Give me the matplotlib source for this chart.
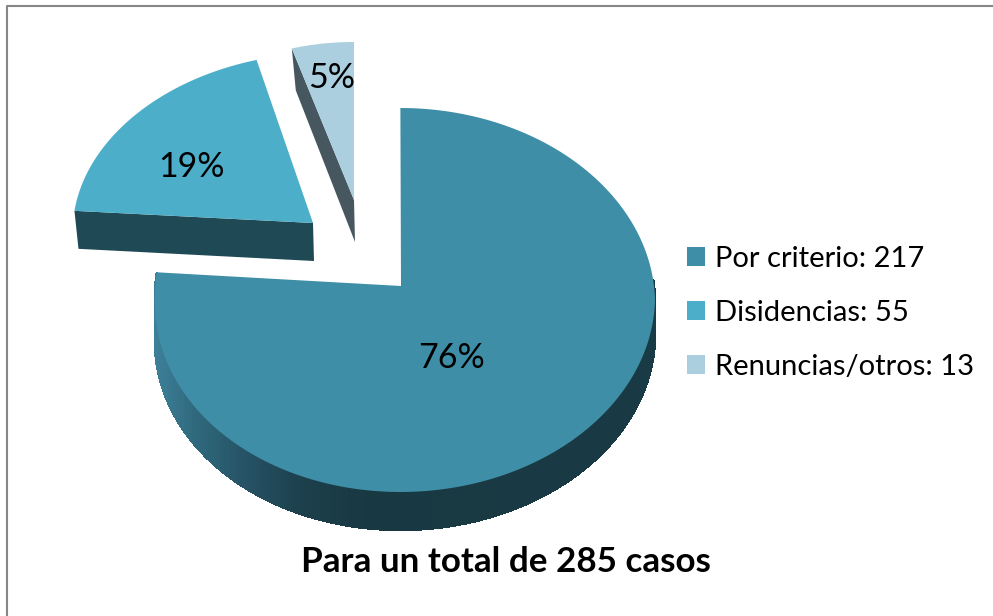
import numpy as np
import matplotlib
matplotlib.use('Agg')
import matplotlib.pyplot as plt
from matplotlib.patches import Patch

names = ['Por criterio', 'Disidencias', 'Renuncias/otros']
values = [217, 55, 13]
title = 'Para un total de 285 casos'

colors = ['#3F8EA7', '#4CAEC9', '#ABCFDF']
side_colors = ['#1F4A55', '#1F4A55', '#465760']

# x position along the rim -> colour of the main slice's side wall
wall_x = [155, 190, 240, 300, 370, 655]
wall_rgb = [(0.24, 0.50, 0.60), (0.19, 0.42, 0.50), (0.15, 0.33, 0.40),
            (0.11, 0.25, 0.30), (0.095, 0.22, 0.26), (0.10, 0.23, 0.27)]

# apex, rim centre, rim radii, tilt, shear, depth for each slice (in pixels)
apex = [(401, 286), (313, 223), (354, 200)]
centre = [(405, 300), (313, 223), (354, 200)]
radii = [(250, 192), (240, 170), (220, 158)]
tilt = [4.2, 0, 0]
shear = [-0.024, 0.07, 0]
depth = [38, 38, 42]
pct_pos = [(451, 358), (191, 167), (332, 78)]

plt.rcParams['font.family'] = ['Lato', 'DejaVu Sans']

fig = plt.figure(figsize=(9.93, 6.16), dpi=100)
ax = fig.add_axes([0, 0, 1, 1])
ax.set_xlim(0, 993)
ax.set_ylim(616, 0)
ax.axis('off')


def rim(i, theta):
    t = np.radians(theta - tilt[i] * np.sin(np.radians(theta)))
    up = radii[i][1] * np.cos(t)
    x = centre[i][0] + radii[i][0] * np.sin(t) + shear[i] * np.abs(up)
    y = centre[i][1] - up
    return x, y


total = sum(values)
angles = np.cumsum([0] + [360 * v / total for v in values])

# side wall of the big slice, as thin strips so the shading can change
steps = np.linspace(88, angles[1], 240)
xs, ys = rim(0, steps)
for k in range(len(steps) - 1):
    mid = (xs[k] + xs[k + 1]) / 2
    col = [np.interp(mid, wall_x, [c[n] for c in wall_rgb]) for n in range(3)]
    ax.fill([xs[k], xs[k + 1], xs[k + 1], xs[k]],
            [ys[k], ys[k + 1], ys[k + 1] + depth[0], ys[k] + depth[0]],
            color=col, lw=1.0, antialiased=False, zorder=1)

# cut faces of the two pulled-out slices
for i in [1, 2]:
    x0, y0 = rim(i, angles[i])
    ax.fill([x0, apex[i][0], apex[i][0] + 1, x0 + 4],
            [y0, apex[i][1], apex[i][1] + depth[i], y0 + depth[i]],
            color=side_colors[i], lw=0, zorder=2)

# top faces
for i in range(3):
    th = np.linspace(angles[i], angles[i + 1], 200)
    x, y = rim(i, th)
    ax.fill(np.r_[apex[i][0], x], np.r_[apex[i][1], y], color=colors[i], lw=0, zorder=3)
    pct = f'{round(100 * values[i] / total)}%'
    ax.text(pct_pos[i][0], pct_pos[i][1], pct, fontsize=24.5, color='black',
            ha='center', va='center', zorder=4)

ax.text(505.5, 562, title, fontsize=25.2, fontweight='bold', color='black',
        ha='center', va='center')

# chart frame
ax.plot([7, 7, 1000], [620, 5.5, 5.5], color='#868686', lw=1.5, clip_on=True)

fs = 21
handles = [Patch(color=c, lw=0) for c in colors]
labels = [f'{n}: {v}' for n, v in zip(names, values)]
px = 100 / 72 * fs
ax.legend(handles, labels, loc='upper left', bbox_to_anchor=(687, 246),
          bbox_transform=ax.transData, frameon=False, fontsize=fs, borderpad=0,
          borderaxespad=0, handlelength=18 / px, handleheight=18 / px,
          handletextpad=10 / px, labelspacing=(57 - px) / px)

fig.savefig('out.png', dpi=100)
